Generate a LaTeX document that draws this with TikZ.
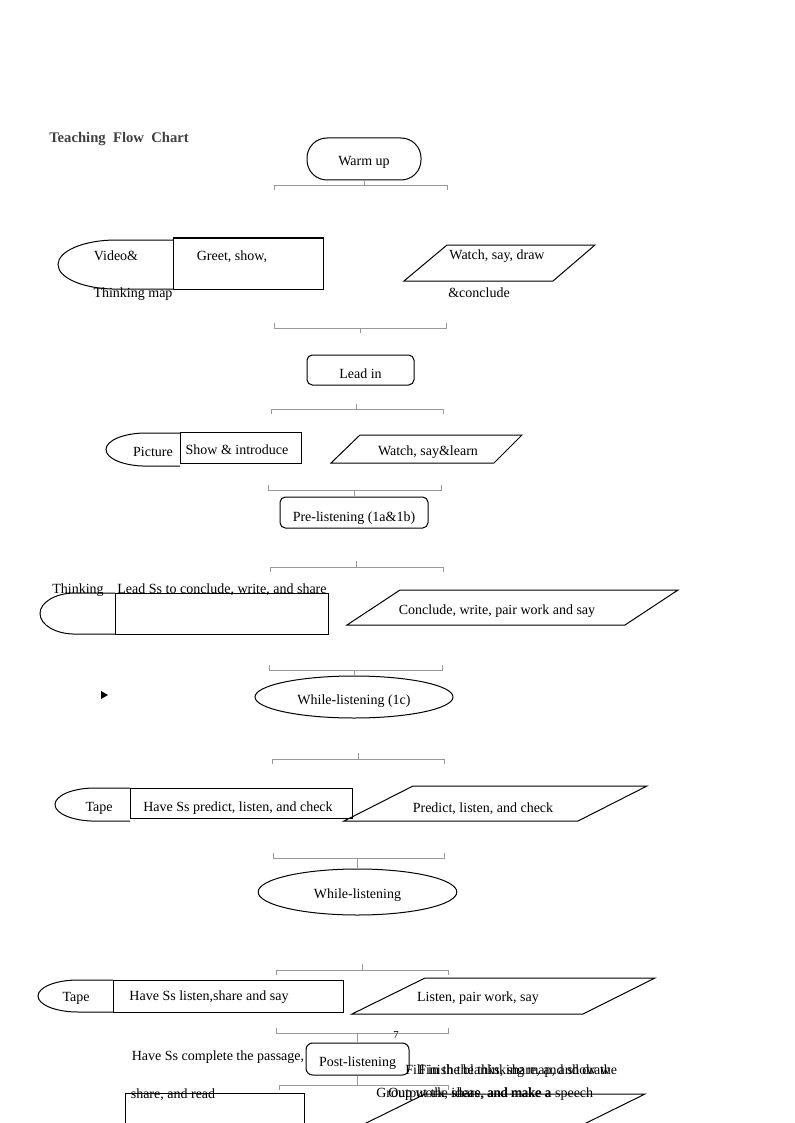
\documentclass[tikz,border=0pt]{standalone}
\usepackage{fontspec}
\setmainfont{Liberation Serif}
\usetikzlibrary{shapes.geometric}
\newcommand{\brk}[5]{%
  \coordinate (#1l) at (#3,#2);
  \coordinate (#1r) at (#4,#2);
  \draw[bracket] (#1l) ++(0,#5) -- (#1l) -- (#1r) -- ++(0,#5);}
\newcommand{\low}[2]{\raisebox{-#1}[\height][\depth]{#2}}
\begin{document}
\begin{tikzpicture}[x=0.75pt,y=-0.75pt,
  every node/.style={font=\fontsize{10.5}{12}\selectfont, inner sep=0pt},
  tx/.style={yshift=-1.5pt},
  shp/.style={draw=black, line width=0.75pt},
  rbox/.style={shp, rounded corners=4pt},
  oval/.style={shp, ellipse},
  bracket/.style={draw=black!40, line width=0.7pt},
  title/.style={font=\fontsize{11}{13}\selectfont\bfseries, text=black!75}]
\useasboundingbox (0,0) rectangle (794,1123);
\clip (0,0) rectangle (794,1123);

% title
\node[title, tx, anchor=west] (title) at (49,137) {Teaching\hspace{0.5em}Flow\hspace{0.5em}Chart};

% ---------- Warm up ----------
\node[shp, rounded corners=15pt, minimum width=85.5pt, minimum height=31.5pt] (warm) at (364,159) {\low{2.25pt}{Warm up}};
\brk{b1}{185}{274}{447}{5}
\coordinate (b1m) at (364,185);
\draw[bracket] (warm.south) -- (b1m);

% row A
\draw[shp] (173,240) -- (116,240) arc[start angle=90, end angle=270, x radius=43.5pt, y radius=18.4pt] -- (173,289);
\draw[shp] (173,238) rectangle (323,289);
\node[tx] (a1) at (116,254) {Video\&};
\node[tx] (a2) at (133,292) {Thinking map};
\node[tx] (a3) at (232,255) {Greet, show,};
\draw[shp] (447,245) -- (595,245) -- (553,281) -- (404,281) -- cycle;
\node[tx] (a4) at (497,254) {Watch, say, draw};
\node[tx] (a5) at (479,291) {\&conclude};

\brk{b2}{328}{274}{446}{-5}
\coordinate (b2m) at (360,328);
\draw[bracket] (b2m) -- ++(0,5);

% ---------- Lead in ----------
\node[rbox, minimum width=80.25pt, minimum height=22.5pt] (lead) at (360.5,370) {\low{3pt}{Lead in}};
\brk{b3}{409}{271}{443}{5}
\coordinate (b3m) at (356,409);
\draw[bracket] (b3m) -- ++(0,-5);

% row B
\draw[shp] (180,433) -- (146,433) arc[start angle=90, end angle=270, x radius=30pt, y radius=12.4pt] -- (180,466);
\draw[shp] (180,432) rectangle (301,463);
\node[tx] (bb1) at (153,450) {Picture};
\node[tx] (bb2) at (237,448) {Show \& introduce};
\draw[shp] (360,435) -- (522,435) -- (494,463) -- (331,463) -- cycle;
\node[tx] (bb3) at (428,450) {Watch, say\&learn};

\brk{b4}{490}{268}{441}{-5}

% ---------- Pre-listening ----------
\node[rbox, minimum width=111pt, minimum height=23.25pt] (pre) at (354,512.5) {\low{4pt}{Pre-listening (1a\&1b)}};
\draw[bracket] (pre.north) -- (pre.north |- b4l);

\brk{b5}{567}{270}{443}{5}
\coordinate (b5m) at (356,567);
\draw[bracket] (b5m) -- ++(0,-6);

% row C
\node[tx] (c1) at (78,588) {Thinking};
\node[tx] (c2) at (222,588) {Lead Ss to conclude, write, and share};
\draw[shp] (115,593) -- (75,593) arc[start angle=90, end angle=270, x radius=26.25pt, y radius=15.4pt] -- (115,634);
\draw[shp] (115,593) rectangle (328,634);
\draw[shp] (400,590) -- (678,590) -- (625,625) -- (347,625) -- cycle;
\node[tx] (c3) at (497,609) {Conclude, write, pair work and say};

\brk{b6}{670}{269}{442}{-5}

% ---------- While-listening (1c) ----------
\node (arr) at (104,695) {};
\fill (101,691) -- (108,695) -- (101,699) -- cycle;
\node[oval, minimum width=148.5pt, minimum height=31.5pt] (wl1) at (354,697) {\low{3pt}{While-listening (1c)}};
\draw[bracket] (wl1.north) -- (wl1.north |- b6l);

\brk{b7}{759}{272}{444}{5}
\coordinate (b7m) at (358,759);
\draw[bracket] (b7m) -- ++(0,-6);

% row D
\draw[shp] (130,788) -- (95,788) arc[start angle=90, end angle=270, x radius=30pt, y radius=12.4pt] -- (130,821);
\draw[shp] (130,788) rectangle (352,818);
\node[tx] (d1) at (99,806) {Tape};
\node[tx] (d2) at (238,806) {Have Ss predict, listen, and check};
\draw[shp] (413,786) -- (647,786) -- (578,821) -- (344,821) -- cycle;
\node[tx] (d3) at (483,807) {Predict, listen, and check};

\brk{b8}{858}{273}{444}{-5}

% ---------- While-listening ----------
\node[oval, minimum width=149pt, minimum height=34.5pt] (wl2) at (357.5,892) {\low{2.25pt}{While-listening}};
\draw[bracket] (wl2.north) -- (wl2.north |- b8l);

\brk{b9}{970}{276}{448}{5}
\coordinate (b9m) at (362,970);
\draw[bracket] (b9m) -- ++(0,-6);

% row E
\draw[shp] (113,980) -- (78,980) arc[start angle=90, end angle=270, x radius=30pt, y radius=12pt] -- (113,1012);
\draw[shp] (113,980) rectangle (343,1012);
\node[tx] (e1) at (76,996) {Tape};
\node[tx] (e2) at (209,995) {Have Ss listen,share and say};
\draw[shp] (425,978) -- (655,978) -- (583,1014) -- (352,1014) -- cycle;
\node[tx] (e3) at (478,996) {Listen, pair work, say};

\brk{b10}{1033}{276}{448}{-5}
\node[tx, font=\fontsize{8}{9}\selectfont] (pg) at (396,1033) {7};

% ---------- Post-listening ----------
\node[rbox, rounded corners=5pt, minimum width=77.25pt, minimum height=24pt] (post) at (357.5,1059) {\low{3pt}{Post-listening}};
\draw[bracket] (post.north) -- (post.north |- b10l);
\brk{b11}{1085}{279}{448}{5}
\draw[bracket] (post.south) -- (post.south |- b11l);

\node[tx] (f1) at (218,1055) {Have Ss complete the passage,};
\node[tx, anchor=west] (f2) at (405,1069) {Fill in the blanks, share, and show the};
\node[tx, anchor=west] (f3) at (418,1069) {Finish the thinking map, and draw};
\node[tx, anchor=west] (f4) at (376,1092) {Group work, share, and make a speech};
\node[tx, anchor=west] (f5) at (388,1092) {Output the ideas, and make a};
\node[tx] (f6) at (173,1093) {share, and read};
\draw[shp] (125,1093) rectangle (304,1135);
\draw[shp] (425,1094) -- (645,1094) -- (572,1130) -- (352,1130) -- cycle;
\end{tikzpicture}
\end{document}
